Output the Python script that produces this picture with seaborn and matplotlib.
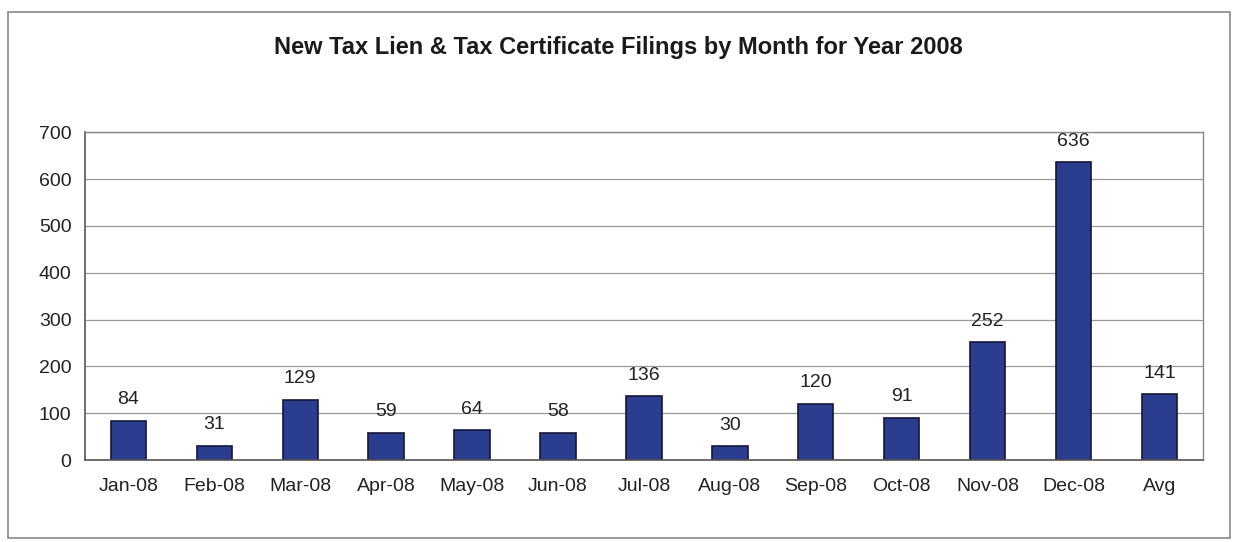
import numpy as np
import pandas as pd
import matplotlib
matplotlib.use("Agg")
import matplotlib.pyplot as plt
from matplotlib.patches import Rectangle
import seaborn as sns

# Veriler
months = ["Jan-08", "Feb-08", "Mar-08", "Apr-08", "May-08", "Jun-08", "Jul-08",
          "Aug-08", "Sep-08", "Oct-08", "Nov-08", "Dec-08", "Avg"]
filings = [84, 31, 129, 59, 64, 58, 136, 30, 120, 91, 252, 636, 141]
y_ticks = [0, 100, 200, 300, 400, 500, 600, 700]

df = pd.DataFrame({"month": months, "filings": filings})

sns.set_style("white")
plt.rcParams["font.family"] = ["Liberation Sans", "DejaVu Sans"]

fig = plt.figure(figsize=(12.36, 5.42), dpi=100)
ax = fig.add_axes([0.069, 0.151, 0.904, 0.605])

sns.barplot(data=df, x="month", y="filings", ax=ax, color="#2B3D8F",
            saturation=1, width=0.41, edgecolor="#16163a", linewidth=1.2)

for c in ax.containers:
    ax.bar_label(c, labels=[str(v) for v in filings], padding=9,
                 fontsize=14, color="#222222")

ax.set_ylim(0, 700)
ax.set_xlim(-0.5, len(months) - 0.5)
ax.set_yticks(y_ticks)
ax.set_yticklabels([str(t) for t in y_ticks], fontsize=14, color="#222222")
ax.set_xticks(range(len(months)))
ax.set_xticklabels(months, fontsize=14, color="#222222")
ax.set_xlabel("")
ax.set_ylabel("")

# Excel tarzı: kategori aralarına tik
ax.tick_params(axis="x", length=0, pad=13)
ax.set_xticks(np.arange(-0.5, len(months), 1.0), minor=True)
ax.tick_params(axis="x", which="minor", length=6, width=1, color="#555555", direction="out")
ax.tick_params(axis="y", length=6, width=1, color="#555555", direction="out", pad=4)

ax.yaxis.grid(True, color="#9a9a9a", linewidth=0.9)
ax.set_axisbelow(True)
for side in ["top", "right"]:
    ax.spines[side].set_color("#8a8a8a")
    ax.spines[side].set_linewidth(1.0)
for side in ["left", "bottom"]:
    ax.spines[side].set_color("#555555")
    ax.spines[side].set_linewidth(1.2)

fig.text(0.5, 0.913, "New Tax Lien & Tax Certificate Filings by Month for Year 2008",
         ha="center", va="center", fontsize=17, fontweight="bold", color="#1a1a1a")

# dış çerçeve
fig.patches.append(Rectangle((8 / 1236, 4 / 542), 1222 / 1236, 526 / 542,
                             transform=fig.transFigure, fill=False,
                             edgecolor="#8a8a8a", linewidth=1.2))

fig.savefig("out.png", dpi=100)
